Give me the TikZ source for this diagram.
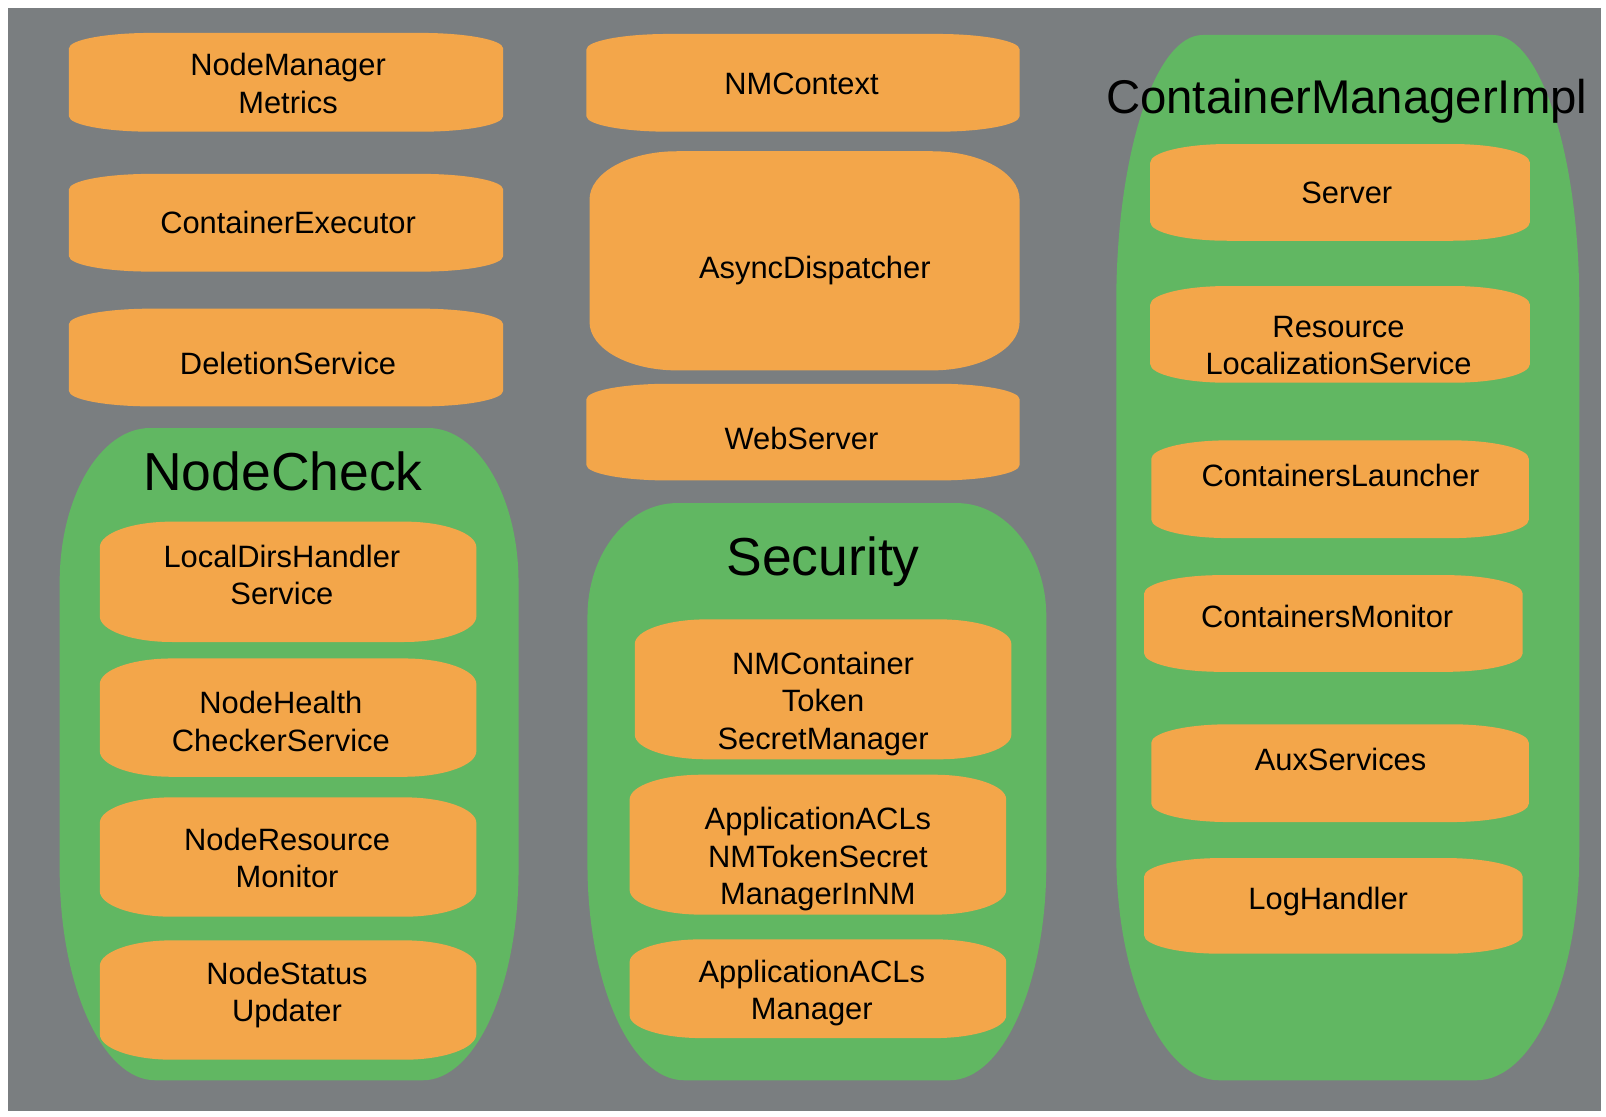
\documentclass[tikz,border=0pt]{standalone}
\usepackage{fontspec}
\setmainfont{Liberation Sans}
\definecolor{bggray}{RGB}{122,126,128}
\definecolor{boxorange}{RGB}{243,166,74}
\definecolor{grpgreen}{RGB}{97,183,98}
% #1 x1, #2 y1 (top), #3 x2, #4 y2 (bottom), #5/#6 top corner radii, #7/#8 bottom corner radii, #9 colour
\newcommand\shapebox[9]{%
  \fill[#9] (#1,-#2-#6)
    arc[start angle=180,end angle=90,x radius=#5pt,y radius=#6pt] -- (#3-#5,-#2)
    arc[start angle=90,end angle=0,x radius=#5pt,y radius=#6pt] -- (#3,-#4+#8)
    arc[start angle=0,end angle=-90,x radius=#7pt,y radius=#8pt] -- (#1+#7,-#4)
    arc[start angle=-90,end angle=-180,x radius=#7pt,y radius=#8pt] -- cycle;}
\tikzset{
  lbl/.style={font=\fontsize{30}{36.5}\selectfont, align=center, inner sep=0pt, text=black},
  grptitle/.style={font=\fontsize{52}{60}\selectfont, inner sep=0pt, text=black},
  cmititle/.style={font=\fontsize{46}{56}\selectfont, inner sep=0pt, text=black}
}
\begin{document}
\begin{tikzpicture}[x=1pt,y=1pt]
\useasboundingbox (0,0) rectangle (1561,-1085);
\fill[bggray] (8,-8) rectangle (1556,-1080);
% group shapes
\shapebox{58}{416}{504}{1050}{88}{150}{93}{205}{grpgreen}
\shapebox{571}{489}{1017}{1050}{87}{110}{94}{210}{grpgreen}
\shapebox{1085}{34}{1535}{1050}{84}{260}{100}{220}{grpgreen}
% left column
\shapebox{67}{32}{489}{128}{80}{15}{80}{15}{boxorange}
\shapebox{67}{169}{489}{264}{80}{15}{80}{15}{boxorange}
\shapebox{67}{300}{489}{395}{80}{15}{80}{15}{boxorange}
% middle column
\shapebox{570}{33}{991}{128}{80}{15}{80}{15}{boxorange}
\shapebox{573}{147}{991}{360}{85}{47}{85}{47}{boxorange}
\shapebox{570}{373}{991}{467}{80}{15}{80}{15}{boxorange}
% NodeCheck boxes
\shapebox{97}{507}{463}{624}{70}{25}{70}{25}{boxorange}
\shapebox{97}{640}{463}{755}{70}{25}{70}{25}{boxorange}
\shapebox{97}{775}{463}{891}{70}{25}{70}{25}{boxorange}
\shapebox{97}{914}{463}{1030}{70}{25}{70}{25}{boxorange}
% Security boxes
\shapebox{617}{602}{983}{738}{70}{24}{70}{24}{boxorange}
\shapebox{612}{753}{978}{889}{70}{24}{70}{24}{boxorange}
\shapebox{612}{913}{978}{1009}{70}{22}{70}{22}{boxorange}
% ContainerManagerImpl boxes
\shapebox{1118}{140}{1487}{234}{75}{18}{75}{18}{boxorange}
\shapebox{1118}{278}{1487}{372}{75}{18}{75}{18}{boxorange}
\shapebox{1119}{428}{1486}{523}{75}{18}{75}{18}{boxorange}
\shapebox{1112}{559}{1480}{653}{75}{18}{75}{18}{boxorange}
\shapebox{1119}{704}{1486}{799}{75}{18}{75}{18}{boxorange}
\shapebox{1112}{834}{1480}{927}{75}{18}{75}{18}{boxorange}
% texts
\node[lbl] (nmm) at (280,-81) {NodeManager\\Metrics};
\node[lbl,anchor=base] (ce) at (280,-227) {ContainerExecutor};
\node[lbl,anchor=base] (ds) at (280,-364) {DeletionService};
\node[lbl,anchor=base] (nmc) at (779,-92) {NMContext};
\node[lbl,anchor=base] (ad) at (792,-271) {AsyncDispatcher};
\node[lbl,anchor=base] (ws) at (779,-437) {WebServer};
\node[grptitle,anchor=base] (nct) at (275,-477) {NodeCheck};
\node[lbl] (ldh) at (274,-559) {LocalDirsHandler\\Service};
\node[lbl] (nhc) at (273,-701) {NodeHealth\\CheckerService};
\node[lbl] (nrm) at (279,-834) {NodeResource\\Monitor};
\node[lbl] (nsu) at (279,-967) {NodeStatus\\Updater};
\node[grptitle,anchor=base] (sect) at (800,-559) {Security};
\node[lbl] (nctsm) at (800,-684) {NMContainer\\Token\\SecretManager};
\node[lbl] (aclnm) at (795,-835) {ApplicationACLs\\NMTokenSecret\\ManagerInNM};
\node[lbl] (aclm) at (789,-965) {ApplicationACLs\\Manager};
\node[cmititle,anchor=base] (cmit) at (1309,-110) {ContainerManagerImpl};
\node[lbl,anchor=base] (srv) at (1309,-198) {Server};
\node[lbl] (rls) at (1301,-336) {Resource\\LocalizationService};
\node[lbl,anchor=base] (cl) at (1303,-473) {ContainersLauncher};
\node[lbl,anchor=base] (cm) at (1290,-610) {ContainersMonitor};
\node[lbl,anchor=base] (aux) at (1303,-749) {AuxServices};
\node[lbl,anchor=base] (lh) at (1291,-884) {LogHandler};
\end{tikzpicture}
\end{document}
